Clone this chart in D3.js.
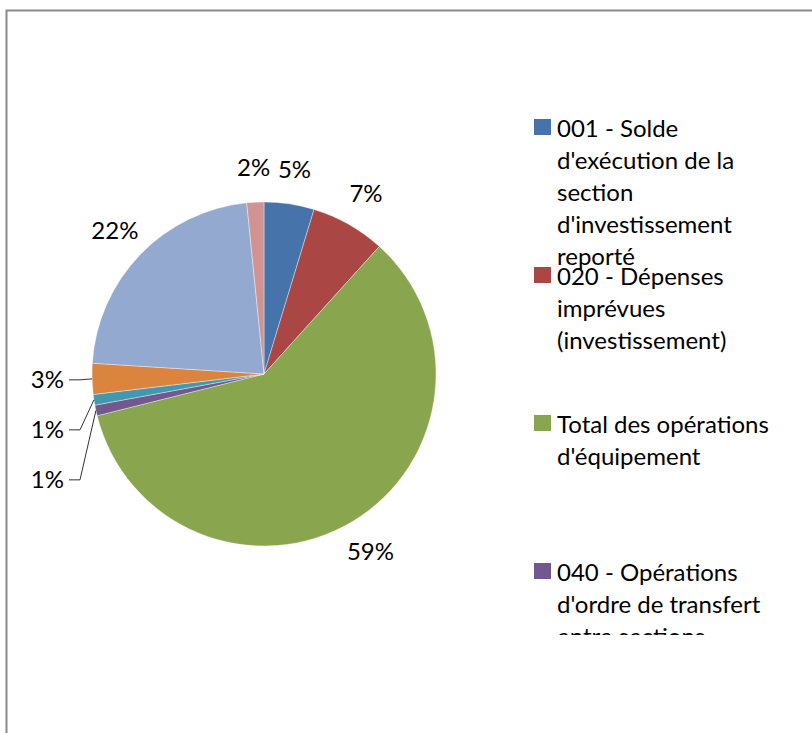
<!DOCTYPE html>
<html>
<head>
<meta charset="utf-8">
<script src="https://d3js.org/d3.v7.min.js"></script>
<style>
  body { margin: 0; background: #fff; }
  svg { display: block; }
</style>
</head>
<body>
<svg width="812" height="733"></svg>
<script>
// chart data (percent of the total)
var categories = [
  "001 - Solde\nd'exécution de la\nsection\nd'investissement\nreporté",
  "020 - Dépenses\nimprévues\n(investissement)",
  "Total des opérations\nd'équipement",
  "040 - Opérations\nd'ordre de transfert\nentre sections",
  "041 - Opérations\npatrimoniales",
  "10 - Dotations, fonds\ndivers et réserves",
  "16 - Emprunts et\ndettes assimilées",
  "Autres dépenses"
];
var values = [4.7, 7.0, 59.4, 1.0, 1.0, 2.9, 22.4, 1.6];
var colors = ["#4674AA", "#AA4643", "#89A54E", "#71588F", "#4198AF", "#DB843D", "#93A9CF", "#D19392"];

var svg = d3.select("svg"),
    width = +svg.attr("width"),
    height = +svg.attr("height");

var font = "Lato, 'Open Sans', sans-serif",
    fontSize = 24;

// outer frame of the chart area
svg.append("rect")
    .attr("x", 6.5).attr("y", 10.5)
    .attr("width", width).attr("height", height)
    .attr("fill", "none")
    .attr("stroke", "#8a8a8a")
    .attr("stroke-width", 2);

var cx = 264, cy = 374, r = 172, labelR = 207;

var total = d3.sum(values);
var data = values.map(function(v, i) { return { name: categories[i], value: v, color: colors[i], i: i }; });

var pie = d3.pie().sort(null).value(function(d) { return d.value; });
var arcs = pie(data);
var arc = d3.arc().innerRadius(0).outerRadius(r);

var g = svg.append("g").attr("transform", "translate(" + cx + "," + cy + ")");

g.selectAll("path")
    .data(arcs)
    .enter().append("path")
      .attr("d", arc)
      .attr("fill", function(d) { return d.data.color; })
      .attr("stroke", "rgba(255,255,255,0.55)")
      .attr("stroke-width", 0.7);

// label positions
function mid(d) { return (d.startAngle + d.endAngle) / 2; }
arcs.forEach(function(d) {
  var a = mid(d);
  d.lx = labelR * Math.sin(a);
  d.ly = -labelR * Math.cos(a);
  // small slices sitting on the left flank
  d.small = d.data.value / total < 0.04 && Math.sin(a) < -0.7;
});

// small slices on the left go into a column, pushed apart
var small = arcs.filter(function(d) { return d.small; })
    .sort(function(a, b) { return a.ly - b.ly; });
var gap = 50;
small.forEach(function(d, k) {
  d.lx = -r - 28;
  if (k > 0) d.ly = Math.max(d.ly, small[k - 1].ly + gap);
});

var fmt = function(v) { return Math.round(100 * v / total) + "%"; };

g.selectAll("text.lbl")
    .data(arcs)
    .enter().append("text")
      .attr("class", "lbl")
      .attr("x", function(d) { return d.lx; })
      .attr("y", function(d) { return d.ly; })
      .attr("dy", "0.35em")
      .attr("text-anchor", function(d) { return d.small ? "end" : "middle"; })
      .attr("font-family", font)
      .attr("font-size", fontSize)
      .attr("fill", "#000")
      .text(function(d) { return fmt(d.data.value); });

// leader lines for the small ones
g.selectAll("polyline")
    .data(small)
    .enter().append("polyline")
      .attr("fill", "none")
      .attr("stroke", "#333")
      .attr("stroke-width", 1)
      .attr("points", function(d) {
        var a = mid(d),
            ex = r * Math.sin(a), ey = -r * Math.cos(a);
        var x0 = d.lx + 5, x1 = d.lx + 16;
        return [[x0, d.ly], [x1, d.ly], [ex, ey]].join(" ");
      });

// legend, clipped like the original
var clipTop = 100, clipBottom = 635;
svg.append("clipPath").attr("id", "legclip")
  .append("rect").attr("x", 520).attr("y", clipTop).attr("width", 292).attr("height", clipBottom - clipTop);

var legend = svg.append("g").attr("clip-path", "url(#legclip)");
var legTop = 119, legStep = 148, lineH = 32;

// entries that start below the clip are hidden entirely
var item = legend.selectAll("g")
    .data(data.filter(function(d, i) { return legTop + i * legStep < clipBottom; }))
    .enter().append("g")
      .attr("transform", function(d, i) { return "translate(534," + (legTop + i * legStep) + ")"; });

item.append("rect")
    .attr("width", 17).attr("height", 16)
    .attr("fill", function(d) { return d.color; });

item.append("text")
    .attr("font-family", font)
    .attr("font-size", fontSize)
    .attr("fill", "#000")
    .selectAll("tspan")
    .data(function(d) { return d.name.split("\n"); })
    .enter().append("tspan")
      .attr("x", 23)
      .attr("y", function(d, j) { return 18 + j * lineH; })
      .text(function(d) { return d; });
</script>
</body>
</html>
